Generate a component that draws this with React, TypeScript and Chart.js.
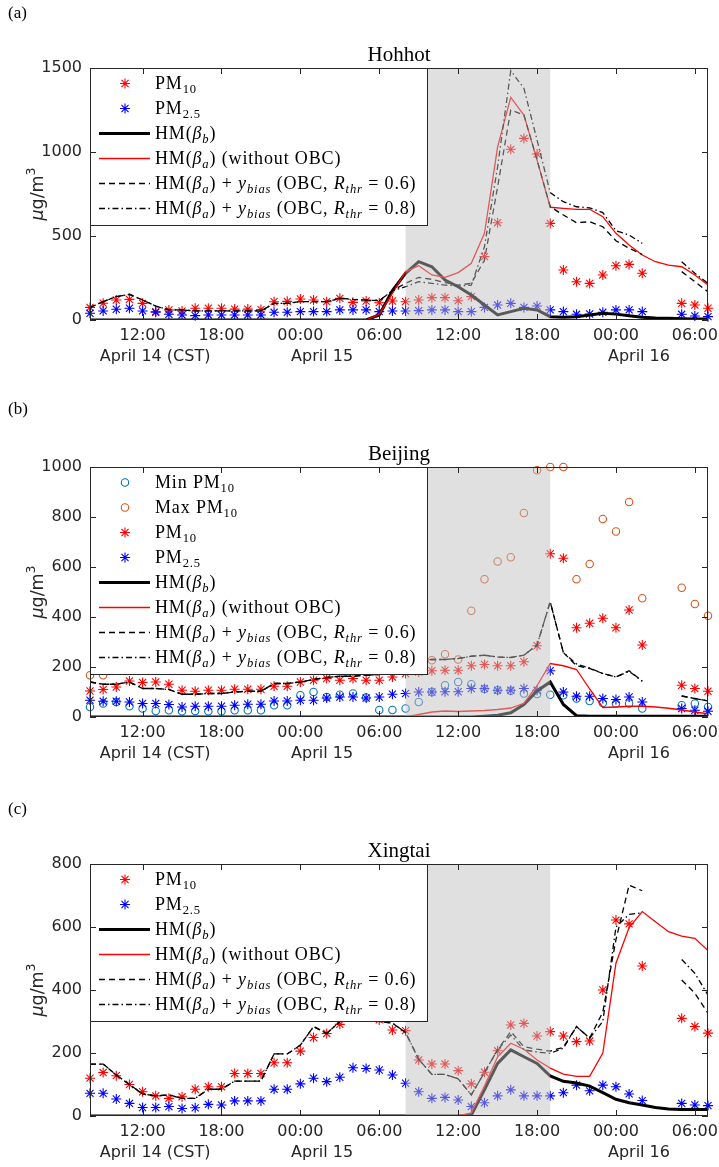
import React, { useEffect, useRef } from "react";
import { Chart, registerables } from "chart.js";
Chart.register(...registerables);

// hourly samples: 08:00 April 14 (CST) ... 07:00 April 16
const HOURS = [
  "08:00","09:00","10:00","11:00","12:00","13:00","14:00","15:00","16:00","17:00","18:00","19:00","20:00","21:00","22:00","23:00",
  "00:00","01:00","02:00","03:00","04:00","05:00","06:00","07:00","08:00","09:00","10:00","11:00","12:00","13:00","14:00","15:00",
  "16:00","17:00","18:00","19:00","20:00","21:00","22:00","23:00","00:00","01:00","02:00","03:00","04:00","05:00","06:00","07:00",
];
const X_TICKS = [4, 10, 16, 22, 28, 34, 40, 46];
const DATE_LABELS = [
  { text: "April 14 (CST)", at: 4.95 },
  { text: "April 15", at: 17.65 },
  { text: "April 16", at: 41.75 },
];
const SHADE = [24, 35];

// ---- (a) Hohhot ----
const A_PM10 = [75,100,119,123,99,50,60,54,70,70,70,65,65,62,109,111,125,119,109,129,105,113,103,113,109,119,133,133,115,139,377,579,1016,1081,988,575,298,228,218,268,323,331,278,null,null,99,89,70];
const A_PM25 = [40,54,64,70,54,46,34,30,26,30,30,30,30,30,46,46,50,50,50,60,60,60,50,54,54,56,60,60,50,50,75,89,99,75,83,60,50,34,36,46,60,60,50,null,null,34,24,20];
const A_HMB = [0,0,0,0,0,0,0,0,0,0,0,0,0,0,0,0,0,0,0,0,0,0,30,175,278,347,317,238,198,149,89,30,50,70,60,20,17,20,30,40,35,25,17,12,10,8,6,6];
const A_HMA = [0,0,0,0,0,0,0,0,0,0,0,0,0,0,0,0,0,0,0,0,0,0,35,159,288,323,268,254,282,337,516,1031,1325,1220,952,671,665,659,659,615,516,446,387,347,327,317,268,208];
const A_D06 = [75,109,139,153,119,83,60,60,54,54,54,54,54,54,99,99,109,109,109,129,123,119,115,175,218,254,242,222,208,218,357,793,1250,1220,952,674,625,579,585,555,472,427,390,null,null,288,228,168];
const A_D08 = [75,109,139,153,119,83,60,60,54,54,54,54,54,54,99,99,109,109,109,129,123,119,115,175,198,228,218,208,202,208,436,912,1484,1379,1071,758,704,674,668,639,532,506,456,null,null,347,278,218];
const A_YTICKS = [0, 500, 1000, 1500];

// ---- (b) Beijing ----
const B_MIN = [40,54,60,43,34,24,27,23,24,23,23,27,27,27,47,47,87,100,80,89,94,78,28,28,34,60,100,127,140,131,112,107,105,94,92,89,87,74,64,56,54,54,34,null,null,47,54,40];
const B_MAX = [167,167,190,210,200,205,195,192,190,195,192,196,198,200,205,210,215,230,240,235,245,240,238,245,230,235,227,251,230,425,551,622,639,816,987,1000,1000,551,612,792,742,860,475,null,null,517,452,405];
const B_PM10 = [104,110,120,144,138,140,131,107,103,107,107,111,111,111,123,123,140,147,154,147,154,147,147,160,174,180,185,187,187,205,210,205,205,221,285,653,635,357,375,395,357,428,288,null,null,127,114,103];
const B_PM25 = [67,63,63,60,54,54,50,40,43,43,43,47,51,51,64,64,67,67,76,80,80,76,80,91,94,100,100,101,101,114,114,107,107,114,107,185,100,83,83,74,70,80,60,null,null,34,27,23];
const B_HMB = [0,0,0,0,0,0,0,0,0,0,0,0,0,0,0,0,0,0,0,0,0,0,0,0,0,0,0,0,0,0,3,7,17,50,104,140,50,5,3,3,3,3,3,3,3,3,3,3];
const B_HMA = [0,0,0,0,0,0,0,0,0,0,0,0,0,0,0,0,0,0,0,0,0,0,0,0,0,10,20,24,22,24,26,30,36,55,125,214,205,190,112,38,40,43,43,40,35,28,20,13];
const B_D06 = [140,131,131,140,114,114,110,91,91,94,94,100,103,103,134,134,140,150,158,163,163,167,170,171,221,227,230,230,234,243,247,240,238,247,288,461,258,205,194,174,160,185,143,null,null,84,74,64];
const B_D08 = [140,131,131,140,114,114,110,91,91,94,94,100,103,103,134,134,140,150,158,163,163,167,170,171,221,227,230,230,234,243,247,240,238,247,288,461,258,212,196,174,160,183,143,null,null,84,74,64];
const B_YTICKS = [0, 200, 400, 600, 800, 1000];

// ---- (c) Xingtai ----
const C_PM10 = [120,138,128,100,77,64,56,61,85,93,93,135,135,135,169,169,206,249,262,291,315,330,305,273,271,178,165,165,144,102,139,207,289,294,254,268,254,236,238,400,622,610,476,null,null,310,284,263];
const C_PM25 = [72,72,54,40,27,27,30,24,26,37,35,48,48,48,85,85,102,120,109,123,153,151,146,130,104,77,56,59,51,30,42,64,83,64,64,64,74,98,80,98,93,70,49,null,null,40,35,33];
const C_HMB = [0,0,0,0,0,0,0,0,0,0,0,0,0,0,0,0,0,0,0,0,0,0,0,0,0,0,0,0,0,3,83,167,210,188,167,127,110,105,95,74,53,42,35,27,22,21,21,21];
const C_HMA = [0,0,0,0,0,0,0,0,0,0,0,0,0,0,0,0,0,0,0,0,0,0,0,0,0,0,0,0,0,10,95,188,231,212,178,152,133,126,126,200,485,598,649,617,585,571,564,525];
const C_D06 = [165,165,130,100,70,64,67,56,56,85,85,111,111,111,197,197,225,284,262,300,330,320,300,295,265,180,132,132,118,67,138,210,268,220,212,206,218,284,247,330,560,733,715,null,null,432,390,326];
const C_D08 = [165,165,130,100,70,64,67,56,56,85,85,111,111,111,197,197,225,284,262,300,330,320,300,295,265,180,132,132,118,67,138,210,257,210,203,199,215,284,247,300,600,640,645,null,null,497,453,384];
const C_YTICKS = [0, 200, 400, 600, 800];

const RED = "#FF0000";
const BLUE = "#0000FF";
const MINC = "#0072BD";
const MAXC = "#D95319";
const AX = "#262626";
const SANS = "'DejaVu Sans', sans-serif";
const SERIF = "'Liberation Serif', 'Times New Roman', serif";
const DASH = [6, 4];
const DASHDOT = [6, 3, 1.5, 3];

type Seg = { t: string; it?: boolean; sub?: boolean };
type LegItem = { kind: "star" | "circle" | "line"; color: string; width?: number; dash?: number[]; segs: Seg[] };

const segPM10: Seg[] = [{ t: "PM" }, { t: "10", sub: true }];
const segPM25: Seg[] = [{ t: "PM" }, { t: "2.5", sub: true }];
const segHMB: Seg[] = [{ t: "HM(" }, { t: "β", it: true }, { t: "b", it: true, sub: true }, { t: ")" }];
const segHMA: Seg[] = [{ t: "HM(" }, { t: "β", it: true }, { t: "a", it: true, sub: true }, { t: ") (without OBC)" }];
const segOBC = (r: string): Seg[] => [
  { t: "HM(" }, { t: "β", it: true }, { t: "a", it: true, sub: true }, { t: ") + " },
  { t: "y", it: true }, { t: "bias", it: true, sub: true }, { t: " (OBC, " },
  { t: "R", it: true }, { t: "thr", it: true, sub: true }, { t: " = " + r + ")" },
];

const baseLegend: LegItem[] = [
  { kind: "star", color: RED, segs: segPM10 },
  { kind: "star", color: BLUE, segs: segPM25 },
  { kind: "line", color: "#000", width: 3, segs: segHMB },
  { kind: "line", color: RED, width: 1.3, segs: segHMA },
  { kind: "line", color: "#000", width: 1.3, dash: DASH, segs: segOBC("0.6") },
  { kind: "line", color: "#000", width: 1.3, dash: DASHDOT, segs: segOBC("0.8") },
];
const bLegend: LegItem[] = [
  { kind: "circle", color: MINC, segs: [{ t: "Min PM" }, { t: "10", sub: true }] },
  { kind: "circle", color: MAXC, segs: [{ t: "Max PM" }, { t: "10", sub: true }] },
  ...baseLegend,
];

function drawRich(ctx: CanvasRenderingContext2D, x: number, y: number, segs: Seg[], size: number, family: string) {
  let cx = x;
  for (const s of segs) {
    const fs = s.sub ? size * 0.7 : size;
    ctx.font = `${s.it ? "italic " : ""}${fs}px ${family}`;
    ctx.fillText(s.t, cx, y + (s.sub ? size * 0.22 : 0));
    cx += ctx.measureText(s.t).width;
  }
  return cx - x;
}

function drawStar(ctx: CanvasRenderingContext2D, x: number, y: number, r: number, color: string) {
  ctx.save();
  ctx.strokeStyle = color;
  ctx.lineWidth = 1.1;
  ctx.beginPath();
  const d = r * Math.SQRT1_2;
  ctx.moveTo(x - r, y); ctx.lineTo(x + r, y);
  ctx.moveTo(x, y - r); ctx.lineTo(x, y + r);
  ctx.moveTo(x - d, y - d); ctx.lineTo(x + d, y + d);
  ctx.moveTo(x - d, y + d); ctx.lineTo(x + d, y - d);
  ctx.stroke();
  ctx.restore();
}

type Panel = {
  tag: string; title: string; height: number; top: number; bottomSpace: number; tagY: number;
  yMax: number; yTicks: number[]; legend: LegItem[];
  series: { pm10: (number | null)[]; pm25: (number | null)[]; hmb: number[]; hma: number[]; d06: (number | null)[]; d08: (number | null)[]; min?: (number | null)[]; max?: (number | null)[] };
};

const PANELS: Panel[] = [
  { tag: "(a)", title: "Hohhot", height: 390, top: 68, bottomSpace: 70, tagY: 17.5, yMax: 1500, yTicks: A_YTICKS, legend: baseLegend,
    series: { pm10: A_PM10, pm25: A_PM25, hmb: A_HMB, hma: A_HMA, d06: A_D06, d08: A_D08 } },
  { tag: "(b)", title: "Beijing", height: 390, top: 77, bottomSpace: 63, tagY: 23.5, yMax: 1000, yTicks: B_YTICKS, legend: bLegend,
    series: { pm10: B_PM10, pm25: B_PM25, hmb: B_HMB, hma: B_HMA, d06: B_D06, d08: B_D08, min: B_MIN, max: B_MAX } },
  { tag: "(c)", title: "Xingtai", height: 387, top: 84, bottomSpace: 51, tagY: 33.5, yMax: 800, yTicks: C_YTICKS, legend: baseLegend,
    series: { pm10: C_PM10, pm25: C_PM25, hmb: C_HMB, hma: C_HMA, d06: C_D06, d08: C_D08 } },
];

function lineDs(label: string, data: any[], color: string, width: number, dash: number[] = []) {
  return { label, data, borderColor: color, backgroundColor: color, borderWidth: width, borderDash: dash, pointRadius: 0, pointHoverRadius: 0, fill: false, tension: 0, spanGaps: false, clip: 0 };
}
function markerDs(label: string, data: any[], color: string, style: string) {
  return { label, data, showLine: false, borderColor: color, backgroundColor: "rgba(0,0,0,0)", pointStyle: style, pointRadius: style === "star" ? 5 : 3.7, pointHoverRadius: 0, pointBorderWidth: 1.1, pointBorderColor: color, pointBackgroundColor: "rgba(0,0,0,0)", clip: false };
}

function makePlugin(p: Panel) {
  return {
    id: "panelDecor",
    afterDatasetsDraw(chart: any) {
      const { ctx, chartArea: a } = chart;
      const x = chart.scales.x;
      const x0 = x.getPixelForValue(SHADE[0]);
      const x1 = x.getPixelForValue(SHADE[1]);
      ctx.save();
      ctx.fillStyle = "rgba(189,189,189,0.475)";
      ctx.fillRect(x0, a.top, x1 - x0, a.bottom - a.top);
      ctx.restore();
    },
    afterDraw(chart: any) {
      const { ctx, chartArea: a } = chart;
      const x = chart.scales.x;
      const y = chart.scales.y;
      ctx.save();
      // legend
      const n = p.legend.length;
      const lh = 32 + (n - 1) * 25;
      const lw = 337;
      ctx.fillStyle = "#fff";
      ctx.fillRect(a.left, a.top, lw, lh);
      ctx.strokeStyle = AX;
      ctx.lineWidth = 1;
      ctx.strokeRect(a.left + 0.5, a.top + 0.5, lw, lh);
      p.legend.forEach((it, i) => {
        const ry = a.top + 15.5 + i * 25;
        if (it.kind === "star") drawStar(ctx, a.left + 35, ry, 5, it.color);
        else if (it.kind === "circle") {
          ctx.beginPath(); ctx.strokeStyle = it.color; ctx.lineWidth = 1.1;
          ctx.arc(a.left + 35, ry, 3.7, 0, Math.PI * 2); ctx.stroke();
        } else {
          ctx.beginPath(); ctx.strokeStyle = it.color; ctx.lineWidth = it.width || 1;
          ctx.setLineDash(it.dash || []);
          ctx.moveTo(a.left + 9, ry); ctx.lineTo(a.left + 60, ry); ctx.stroke();
          ctx.setLineDash([]);
        }
        ctx.fillStyle = "#000";
        ctx.textAlign = "left";
        ctx.textBaseline = "alphabetic";
        (ctx as any).letterSpacing = "0.85px";
        drawRich(ctx, a.left + 65, ry + 5.5, it.segs, 18, SERIF);
        (ctx as any).letterSpacing = "0px";
      });
      // frame
      ctx.strokeStyle = AX;
      ctx.lineWidth = 1;
      ctx.strokeRect(a.left + 0.5, a.top + 0.5, a.right - a.left - 1, a.bottom - a.top - 1);
      ctx.beginPath();
      for (const v of X_TICKS) {
        const px = Math.round(x.getPixelForValue(v)) + 0.5;
        ctx.moveTo(px, a.bottom); ctx.lineTo(px, a.bottom - 6);
        ctx.moveTo(px, a.top); ctx.lineTo(px, a.top + 6);
      }
      for (const v of p.yTicks) {
        const py = Math.round(y.getPixelForValue(v)) + 0.5;
        ctx.moveTo(a.left, py); ctx.lineTo(a.left + 6, py);
        ctx.moveTo(a.right, py); ctx.lineTo(a.right - 6, py);
      }
      ctx.stroke();
      // title
      ctx.fillStyle = "#000";
      ctx.textAlign = "center";
      ctx.textBaseline = "alphabetic";
      ctx.font = `21px ${SERIF}`;
      ctx.fillText(p.title, (a.left + a.right) / 2, a.top - 7);
      // panel tag
      ctx.textAlign = "left";
      ctx.font = `17px ${SERIF}`;
      ctx.fillText(p.tag, 8, p.tagY);
      // date labels
      ctx.fillStyle = AX;
      ctx.textAlign = "center";
      ctx.textBaseline = "middle";
      ctx.font = `16px ${SANS}`;
      for (const d of DATE_LABELS) ctx.fillText(d.text, x.getPixelForValue(d.at), a.bottom + 37);
      // y label
      ctx.translate(43, (a.top + a.bottom) / 2);
      ctx.rotate(-Math.PI / 2);
      ctx.textAlign = "left";
      ctx.textBaseline = "alphabetic";
      const parts: { t: string; f: string; dy: number }[] = [
        { t: "μ", f: `italic 17.5px ${SANS}`, dy: 0 },
        { t: "g/m", f: `17.5px ${SANS}`, dy: 0 },
        { t: "3", f: `12.5px ${SANS}`, dy: -8 },
      ];
      let tw = 0;
      for (const q of parts) { ctx.font = q.f; tw += ctx.measureText(q.t).width; }
      let cx = -tw / 2;
      for (const q of parts) { ctx.font = q.f; ctx.fillText(q.t, cx, q.dy); cx += ctx.measureText(q.t).width; }
      ctx.restore();
    },
  };
}

function PanelChart({ p, top }: { p: Panel; top: number }) {
  const ref = useRef<HTMLCanvasElement | null>(null);
  useEffect(() => {
    if (!ref.current) return;
    const s = p.series;
    const datasets: any[] = [
      lineDs("HM(βa)+ybias (OBC, Rthr=0.8)", s.d08, "#000", 1.3, DASHDOT),
      lineDs("HM(βa)+ybias (OBC, Rthr=0.6)", s.d06, "#000", 1.3, DASH),
      lineDs("HM(βa) (without OBC)", s.hma, RED, 1.3),
      lineDs("HM(βb)", s.hmb, "#000", 3),
      markerDs("PM2.5", s.pm25, BLUE, "star"),
      markerDs("PM10", s.pm10, RED, "star"),
    ];
    if (s.max) datasets.push(markerDs("Max PM10", s.max, MAXC, "circle"));
    if (s.min) datasets.push(markerDs("Min PM10", s.min, MINC, "circle"));
    const chart = new Chart(ref.current, {
      type: "line",
      data: { labels: HOURS, datasets },
      options: {
        responsive: false,
        animation: false,
        devicePixelRatio: 1,
        events: [],
        layout: { padding: { left: 0, right: 11, top: p.top, bottom: 0 } },
        plugins: { legend: { display: false }, title: { display: false }, tooltip: { enabled: false } },
        scales: {
          x: {
            type: "category",
            offset: false,
            grid: { display: false, drawTicks: false },
            border: { display: false },
            ticks: {
              autoSkip: false, maxRotation: 0, minRotation: 0, padding: 6, color: AX,
              font: { family: SANS, size: 16 },
              callback: (v: any) => HOURS[v as number],
            },
            afterBuildTicks: (sc: any) => { sc.ticks = X_TICKS.map((v) => ({ value: v })); },
            afterFit: (sc: any) => { sc.height = p.bottomSpace; sc.paddingLeft = 0; sc.paddingRight = 0; },
          },
          y: {
            type: "linear",
            min: 0,
            max: p.yMax,
            grid: { display: false, drawTicks: false },
            border: { display: false },
            ticks: { padding: 8, color: AX, font: { family: SANS, size: 16 }, callback: (v: any) => String(v) },
            afterBuildTicks: (sc: any) => { sc.ticks = p.yTicks.map((v) => ({ value: v })); },
            afterFit: (sc: any) => { sc.width = 90; sc.paddingTop = 0; sc.paddingBottom = 0; },
          },
        },
      } as any,
      plugins: [makePlugin(p)],
    });
    return () => chart.destroy();
  }, [p]);
  return (
    <canvas ref={ref} width={719} height={p.height}
      style={{ position: "absolute", left: 0, top, width: 719, height: p.height, display: "block" }} />
  );
}

export default function App() {
  const tops = [0, 390, 780];
  return (
    <div style={{ position: "absolute", left: 0, top: 0, width: 719, height: 1167, background: "#fff", overflow: "hidden" }}>
      {PANELS.map((p, i) => <PanelChart key={i} p={p} top={tops[i]} />)}
    </div>
  );
}
